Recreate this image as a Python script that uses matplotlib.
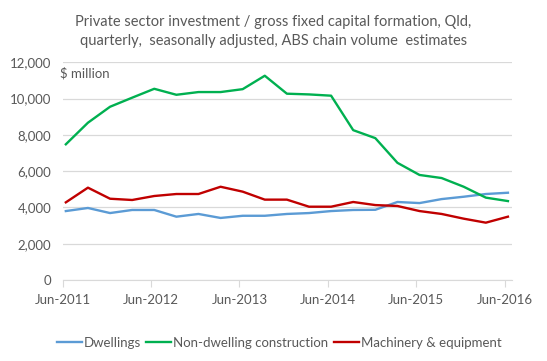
import matplotlib
matplotlib.use('Agg')
import matplotlib.pyplot as plt

plt.rcParams['font.family'] = ['Lato', 'DejaVu Sans']

# quarterly, Jun-2011 .. Jun-2016, $ million
quarters = ['Jun-2011', 'Sep-2011', 'Dec-2011', 'Mar-2012', 'Jun-2012', 'Sep-2012',
            'Dec-2012', 'Mar-2013', 'Jun-2013', 'Sep-2013', 'Dec-2013', 'Mar-2014',
            'Jun-2014', 'Sep-2014', 'Dec-2014', 'Mar-2015', 'Jun-2015', 'Sep-2015',
            'Dec-2015', 'Mar-2016', 'Jun-2016']
dwellings = [3800, 3970, 3690, 3860, 3860, 3490, 3640, 3420, 3540, 3540, 3640,
             3690, 3800, 3860, 3870, 4300, 4240, 4460, 4590, 4740, 4810]
non_dwelling = [7480, 8670, 9550, 10050, 10540, 10210, 10360, 10360, 10520, 11260, 10270,
                10230, 10160, 8260, 7820, 6460, 5790, 5620, 5140, 4540, 4350]
machinery = [4280, 5090, 4480, 4410, 4630, 4740, 4740, 5140, 4870, 4430, 4430,
             4040, 4040, 4300, 4130, 4080, 3800, 3640, 3380, 3160, 3490]
tick_labels = ['Jun-2011', 'Jun-2012', 'Jun-2013', 'Jun-2014', 'Jun-2015', 'Jun-2016']

grey = '#595959'
months = [3 * i + 0.45 for i in range(len(quarters))]

fig = plt.figure(figsize=(5.47, 3.61), dpi=100)
fig.patch.set_facecolor('white')
ax = fig.add_axes([0.1143, 0.2244, 0.8217, 0.603])

ax.plot(months, dwellings, color='#5B9BD5', lw=1.7, label='Dwellings')
ax.plot(months, non_dwelling, color='#00B050', lw=1.7, label='Non-dwelling construction')
ax.plot(months, machinery, color='#C00000', lw=1.7, label='Machinery & equipment')

ax.set_xlim(0, 61)
ax.set_ylim(0, 12000)
ax.set_xticks(range(0, 61, 12))
ax.set_xticklabels(tick_labels)
ax.set_yticks(range(0, 12001, 2000))
ax.set_yticklabels(['{:,}'.format(v) for v in range(0, 12001, 2000)])
ax.grid(axis='y', color='#d9d9d9', lw=0.9)
ax.set_axisbelow(True)
for s in ['top', 'right', 'left']:
    ax.spines[s].set_visible(False)
ax.spines['bottom'].set_color('#d9d9d9')
ax.tick_params(axis='y', length=0, pad=8, labelsize=9.5, labelcolor=grey)
ax.tick_params(axis='x', length=5, color='#d9d9d9', pad=5, labelsize=9.5, labelcolor=grey)

ax.text(-0.3, 11400, '$ million', color=grey, fontsize=9.5, va='center')

fig.text(0.5, 0.913, 'Private sector investment / gross fixed capital formation, Qld,\n'
         'quarterly,  seasonally adjusted, ABS chain volume  estimates',
         ha='center', va='center', color=grey, fontsize=10.5, linespacing=1.4)

fig.legend(loc='center', bbox_to_anchor=(0.51, 0.05), ncol=3, frameon=False,
           fontsize=9.5, handlelength=1.9, handletextpad=0.15, columnspacing=0.4,
           labelcolor=grey)

plt.savefig('out.png', dpi=100, transparent=False)
